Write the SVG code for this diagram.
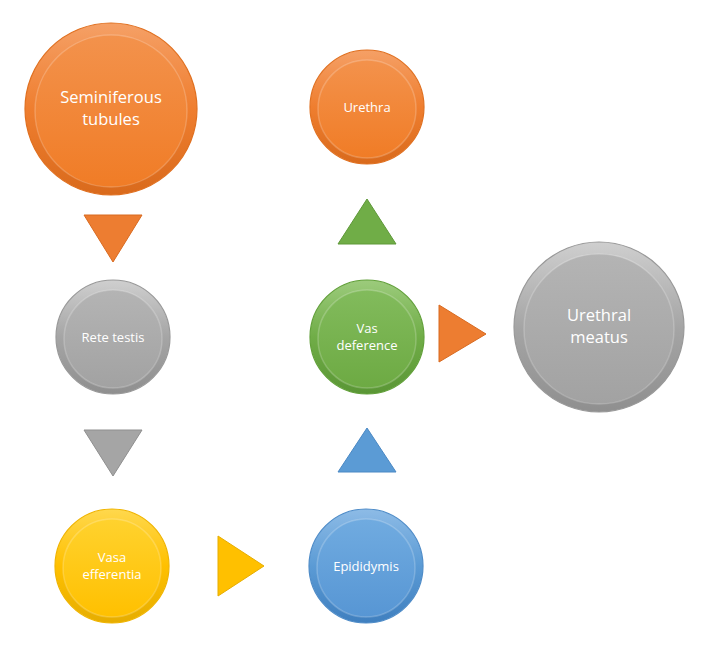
<svg xmlns="http://www.w3.org/2000/svg" width="703" height="670" viewBox="0 0 703 670">
<defs>
<linearGradient id="rimO" x1="0" y1="0" x2="0" y2="1"><stop offset="0" stop-color="#f5a066"/><stop offset="0.5" stop-color="#ef7e2f"/><stop offset="1" stop-color="#d96a1c"/></linearGradient>
<linearGradient id="inO" x1="0" y1="0" x2="0" y2="1"><stop offset="0" stop-color="#f3924c"/><stop offset="1" stop-color="#f07c26"/></linearGradient>
<linearGradient id="rimG" x1="0" y1="0" x2="0" y2="1"><stop offset="0" stop-color="#cfcfcf"/><stop offset="0.5" stop-color="#a5a5a5"/><stop offset="1" stop-color="#8f8f8f"/></linearGradient>
<linearGradient id="inG" x1="0" y1="0" x2="0" y2="1"><stop offset="0" stop-color="#b4b4b4"/><stop offset="1" stop-color="#a2a2a2"/></linearGradient>
<linearGradient id="rimY" x1="0" y1="0" x2="0" y2="1"><stop offset="0" stop-color="#ffd84d"/><stop offset="0.5" stop-color="#ffc000"/><stop offset="1" stop-color="#e6ad00"/></linearGradient>
<linearGradient id="inY" x1="0" y1="0" x2="0" y2="1"><stop offset="0" stop-color="#ffd22e"/><stop offset="1" stop-color="#ffc000"/></linearGradient>
<linearGradient id="rimB" x1="0" y1="0" x2="0" y2="1"><stop offset="0" stop-color="#8dbbe6"/><stop offset="0.5" stop-color="#5b9bd5"/><stop offset="1" stop-color="#3f7fbf"/></linearGradient>
<linearGradient id="inB" x1="0" y1="0" x2="0" y2="1"><stop offset="0" stop-color="#70abe0"/><stop offset="1" stop-color="#5796d4"/></linearGradient>
<linearGradient id="rimN" x1="0" y1="0" x2="0" y2="1"><stop offset="0" stop-color="#9ccb7c"/><stop offset="0.5" stop-color="#70ad47"/><stop offset="1" stop-color="#5a9635"/></linearGradient>
<linearGradient id="inN" x1="0" y1="0" x2="0" y2="1"><stop offset="0" stop-color="#82bb5c"/><stop offset="1" stop-color="#6daa43"/></linearGradient>
</defs>
<style>
.rim{stroke-width:1.2}
.in{stroke:#ffffff;stroke-opacity:0.2;stroke-width:1.5}
text{font-family:"Open Sans","Liberation Sans",sans-serif;fill:#ffffff;text-anchor:middle}
.s{font-size:13px}
.l{font-size:16.5px}
</style>
<rect width="703" height="670" fill="#ffffff"/>
<g id="connectors">
<polygon points="84,215 142,215 113,262" fill="#ed7d31" stroke="#d86a20" stroke-width="1"/>
<polygon points="84,430 142,430 113,476" fill="#a5a5a5" stroke="#8f8f8f" stroke-width="1"/>
<polygon points="218,536 264,566 218,596" fill="#ffc000" stroke="#e6ad00" stroke-width="1"/>
<polygon points="338,472 396,472 367,428" fill="#5b9bd5" stroke="#4a88c4" stroke-width="1"/>
<polygon points="338,244 396,244 367,199" fill="#70ad47" stroke="#5e9838" stroke-width="1"/>
<polygon points="439,305 486,334 439,362" fill="#ed7d31" stroke="#d86a20" stroke-width="1"/>
</g>
<g id="seminiferous">
<circle cx="111" cy="109" r="86" fill="url(#rimO)" class="rim" stroke="#e07020"/>
<circle cx="111" cy="111" r="76" fill="url(#inO)" class="in"/>
<text class="l" x="111" y="103">Seminiferous</text>
<text class="l" x="111" y="125">tubules</text>
</g>
<g id="urethra">
<circle cx="367" cy="107" r="57" fill="url(#rimO)" class="rim" stroke="#e07020"/>
<circle cx="367" cy="109" r="49" fill="url(#inO)" class="in"/>
<text class="s" x="367" y="112">Urethra</text>
</g>
<g id="rete">
<circle cx="113" cy="337" r="57" fill="url(#rimG)" class="rim" stroke="#999"/>
<circle cx="113" cy="339" r="49" fill="url(#inG)" class="in"/>
<text class="s" x="113" y="342">Rete testis</text>
</g>
<g id="vas">
<circle cx="367" cy="337" r="57" fill="url(#rimN)" class="rim" stroke="#62a03a"/>
<circle cx="367" cy="339" r="49" fill="url(#inN)" class="in"/>
<text class="s" x="367" y="333">Vas</text>
<text class="s" x="367" y="350">deference</text>
</g>
<g id="meatus">
<circle cx="599" cy="327" r="85" fill="url(#rimG)" class="rim" stroke="#999"/>
<circle cx="599" cy="329" r="75" fill="url(#inG)" class="in"/>
<text class="l" x="599" y="321">Urethral</text>
<text class="l" x="599" y="343">meatus</text>
</g>
<g id="vasa">
<circle cx="112" cy="566" r="57" fill="url(#rimY)" class="rim" stroke="#f0b400"/>
<circle cx="112" cy="568" r="49" fill="url(#inY)" class="in"/>
<text class="s" x="112" y="562">Vasa</text>
<text class="s" x="112" y="579">efferentia</text>
</g>
<g id="epididymis">
<circle cx="366" cy="566" r="57" fill="url(#rimB)" class="rim" stroke="#4f8cc8"/>
<circle cx="366" cy="568" r="49" fill="url(#inB)" class="in"/>
<text class="s" x="366" y="571">Epididymis</text>
</g>
</svg>
